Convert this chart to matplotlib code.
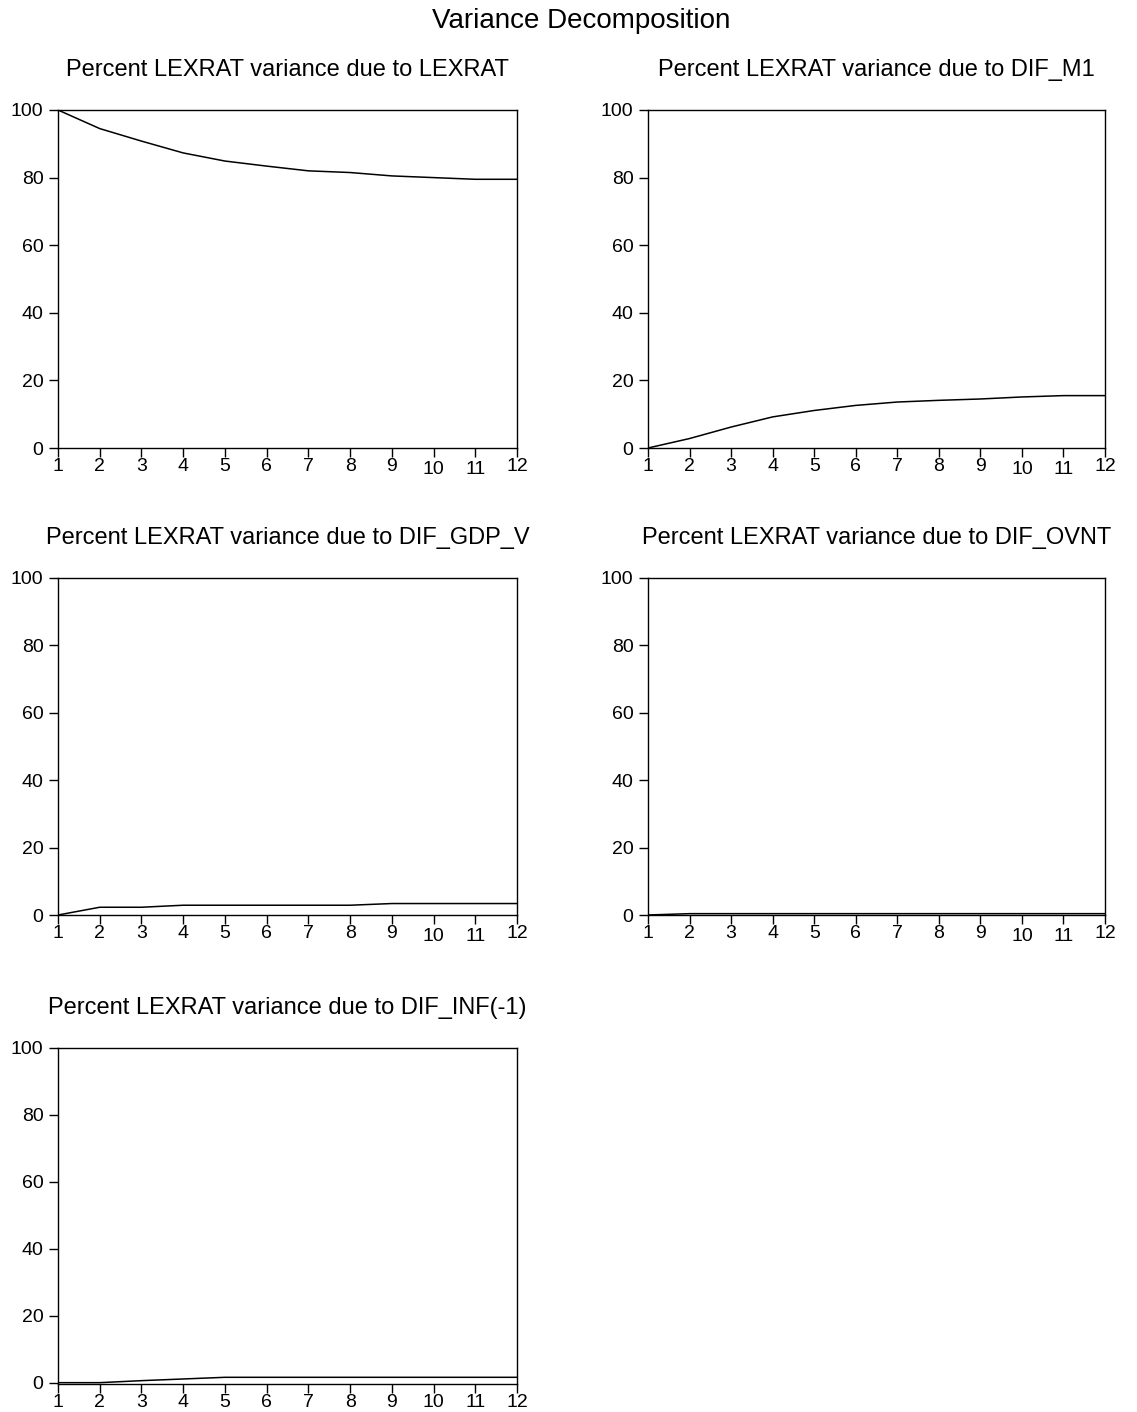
import matplotlib
matplotlib.use("Agg")
import matplotlib.pyplot as plt
from matplotlib.transforms import ScaledTranslation

plt.rcParams['font.family'] = ['Liberation Sans', 'DejaVu Sans']

periods = [1, 2, 3, 4, 5, 6, 7, 8, 9, 10, 11, 12]
xtick_labels = [str(p) for p in periods]
yticks = [0, 20, 40, 60, 80, 100]

titles = [
    "Percent LEXRAT variance due to LEXRAT",
    "Percent LEXRAT variance due to DIF_M1",
    "Percent LEXRAT variance due to DIF_GDP_V",
    "Percent LEXRAT variance due to DIF_OVNT",
    "Percent LEXRAT variance due to DIF_INF(-1)",
]

lexrat = [100.0, 94.5, 90.8, 87.3, 84.9, 83.4, 82.0, 81.5, 80.5, 80.0, 79.5, 79.5]
dif_m1 = [0.0, 2.8, 6.2, 9.2, 11.1, 12.6, 13.6, 14.1, 14.5, 15.1, 15.5, 15.5]
dif_gdp_v = [0.0, 2.3, 2.3, 2.9, 2.9, 2.9, 2.9, 2.9, 3.4, 3.4, 3.4, 3.4]
dif_ovnt = [0.0, 0.4, 0.4, 0.4, 0.4, 0.4, 0.4, 0.4, 0.4, 0.4, 0.4, 0.4]
dif_inf = [0.0, 0.0, 0.6, 1.1, 1.6, 1.6, 1.6, 1.6, 1.6, 1.6, 1.6, 1.6]

series = [lexrat, dif_m1, dif_gdp_v, dif_ovnt, dif_inf]
ylims = [(0, 100), (0, 100), (0, 100), (0, 100), (-0.4, 100)]

W, H = 1137, 1412
fig = plt.figure(figsize=(W / 100, H / 100), dpi=100)

cols = [(58, 517), (648, 1105)]
rows = [(110, 448), (578, 915), (1048, 1384)]

for i, (vals, title) in enumerate(zip(series, titles)):
    r, c = divmod(i, 2)
    x0, x1 = cols[c]
    y0, y1 = rows[r]
    ax = fig.add_axes([x0 / W, 1 - y1 / H, (x1 - x0) / W, (y1 - y0) / H])
    ax.plot(periods, vals, color='black', linewidth=1.1)
    ax.set_xlim(1, 12)
    ax.set_ylim(*ylims[i])
    ax.set_xticks(periods)
    ax.set_xticklabels(xtick_labels)
    ax.set_yticks(yticks)
    ax.tick_params(axis='both', direction='out', length=6.5, width=1.0,
                   labelsize=14, colors='black')
    ax.tick_params(axis='x', pad=1.0)
    ax.tick_params(axis='y', pad=4)
    # EViews-style slight drop of the two-digit labels 10 and 11
    if r < 2:
        for lbl in ax.get_xticklabels():
            if lbl.get_text() in ("10", "11"):
                lbl.set_transform(lbl.get_transform() +
                                  ScaledTranslation(0, -2.0 / 72, fig.dpi_scale_trans))
    for s in ax.spines.values():
        s.set_linewidth(1.0)
        s.set_color('black')
    fig.text((x0 + x1) / 2 / W, 1 - (y0 - 40) / H, title,
             ha='center', va='center', fontsize=17)

fig.text(581 / W, 1 - 21 / H, "Variance Decomposition",
         ha='center', va='center', fontsize=20)

fig.savefig("out.png", dpi=100)
